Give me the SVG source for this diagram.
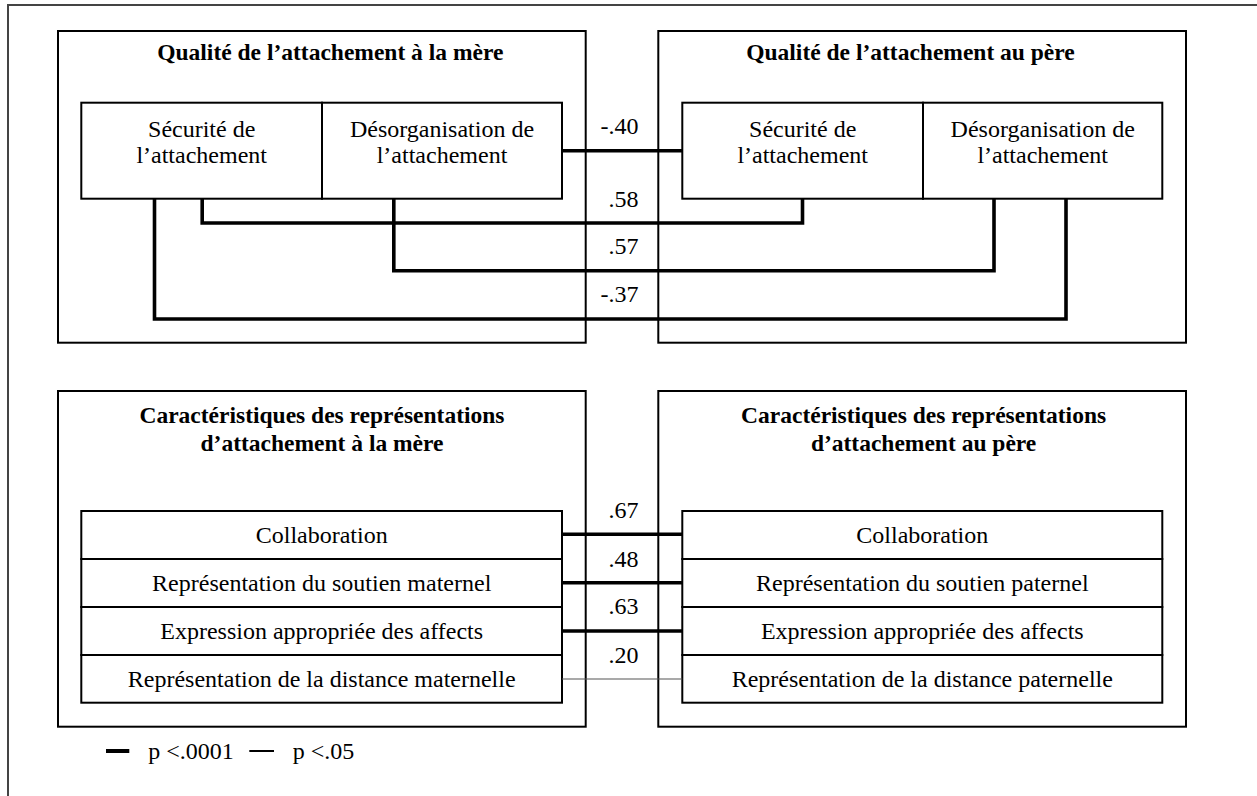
<svg xmlns="http://www.w3.org/2000/svg" width="1257" height="796" viewBox="0 0 1257 796">
<style>
.box{fill:none;stroke:#000;stroke-width:2}
.t{font-family:"Liberation Serif","Times New Roman",serif;font-size:24px;fill:#000;text-anchor:middle}
.h{font-weight:bold;font-size:23.5px}
.lbl{text-anchor:end}
.lg{text-anchor:start}
.thick{fill:none;stroke:#000;stroke-width:3.6;stroke-linejoin:miter}
.thin{fill:none;stroke:#555;stroke-width:1.2}
</style>
<rect width="1257" height="796" fill="#fff"/>
<g id="frame">
<path d="M8,796 V5 H1257" fill="none" stroke="#444" stroke-width="2"/>
</g>
<g id="mother-quality">
<rect class="box" x="58" y="31" width="527.7" height="311.7"/>
<text class="t h" x="330.3" y="60">Qualité de l’attachement à la mère</text>
<g id="m-securite">
<rect class="box" x="81.3" y="102.7" width="240.7" height="96"/>
<text class="t" x="201.7" y="136.7">Sécurité de</text>
<text class="t" x="201.7" y="163.3">l’attachement</text>
</g>
<g id="m-desorg">
<rect class="box" x="322" y="102.7" width="240" height="96"/>
<text class="t" x="442" y="136.7">Désorganisation de</text>
<text class="t" x="442" y="163.3">l’attachement</text>
</g>
</g>
<g id="father-quality">
<rect class="box" x="658.3" y="31" width="527.7" height="311.7"/>
<text class="t h" x="910.5" y="60">Qualité de l’attachement au père</text>
<g id="p-securite">
<rect class="box" x="682.3" y="102.7" width="240.7" height="96"/>
<text class="t" x="802.7" y="136.7">Sécurité de</text>
<text class="t" x="802.7" y="163.3">l’attachement</text>
</g>
<g id="p-desorg">
<rect class="box" x="923" y="102.7" width="239.3" height="96"/>
<text class="t" x="1042.7" y="136.7">Désorganisation de</text>
<text class="t" x="1042.7" y="163.3">l’attachement</text>
</g>
</g>
<g id="mother-repr">
<rect class="box" x="58" y="391" width="527.7" height="335.7"/>
<text class="t h" x="322" y="423.3">Caractéristiques des représentations</text>
<text class="t h" x="322" y="451">d’attachement à la mère</text>
<g id="m-collab"><rect class="box" x="81.3" y="511" width="480.7" height="48"/><text class="t" x="321.7" y="543.3">Collaboration</text></g>
<g id="m-soutien"><rect class="box" x="81.3" y="559" width="480.7" height="48"/><text class="t" x="321.7" y="591">Représentation du soutien maternel</text></g>
<g id="m-affects"><rect class="box" x="81.3" y="607" width="480.7" height="48"/><text class="t" x="321.7" y="639.3">Expression appropriée des affects</text></g>
<g id="m-distance"><rect class="box" x="81.3" y="655" width="480.7" height="47.7"/><text class="t" x="321.7" y="687.3">Représentation de la distance maternelle</text></g>
</g>
<g id="father-repr">
<rect class="box" x="658.3" y="391" width="527.7" height="335.7"/>
<text class="t h" x="923.6" y="423.3">Caractéristiques des représentations</text>
<text class="t h" x="923.6" y="451">d’attachement au père</text>
<g id="p-collab"><rect class="box" x="682.3" y="511" width="480" height="48"/><text class="t" x="922.3" y="543.3">Collaboration</text></g>
<g id="p-soutien"><rect class="box" x="682.3" y="559" width="480" height="48"/><text class="t" x="922.3" y="591">Représentation du soutien paternel</text></g>
<g id="p-affects"><rect class="box" x="682.3" y="607" width="480" height="48"/><text class="t" x="922.3" y="639.3">Expression appropriée des affects</text></g>
<g id="p-distance"><rect class="box" x="682.3" y="655" width="480" height="47.7"/><text class="t" x="922.3" y="687.3">Représentation de la distance paternelle</text></g>
</g>
<g id="connectors">
<path class="thick" d="M562,150.7 H682.3"/>
<path class="thick" d="M202.2,198.7 V223 H802.5 V198.7"/>
<path class="thick" d="M393.8,198.7 V270.7 H994 V198.7"/>
<path class="thick" d="M154.5,198.7 V319 H1066 V198.7"/>
<path class="thick" d="M562,534.3 H682.3"/>
<path class="thick" d="M562,582.7 H682.3"/>
<path class="thick" d="M562,631 H682.3"/>
<path class="thin" d="M562,679 H682.3"/>
<text class="t lbl" x="638.5" y="134.3">-.40</text>
<text class="t lbl" x="638.5" y="206.7">.58</text>
<text class="t lbl" x="638.5" y="254">.57</text>
<text class="t lbl" x="638.5" y="302.3">-.37</text>
<text class="t lbl" x="638.5" y="518.3">.67</text>
<text class="t lbl" x="638.5" y="566.7">.48</text>
<text class="t lbl" x="638.5" y="614.3">.63</text>
<text class="t lbl" x="638.5" y="662.7">.20</text>
</g>
<g id="legend">
<line x1="106" y1="751" x2="129.3" y2="751" stroke="#000" stroke-width="4"/>
<text class="t lg" x="148.3" y="758.7">p &lt;.0001</text>
<line x1="249.3" y1="751" x2="274" y2="751" stroke="#000" stroke-width="2"/>
<text class="t lg" x="292.7" y="758.7">p &lt;.05</text>
</g>
</svg>
